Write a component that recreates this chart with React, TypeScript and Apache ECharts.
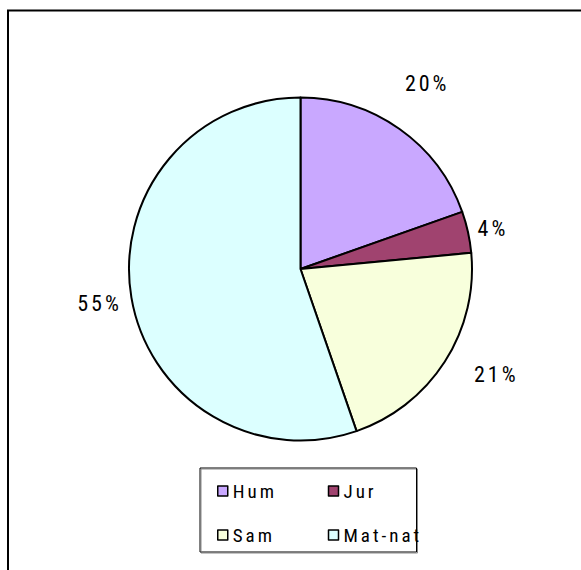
import React, { useEffect, useRef } from "react";
import * as echarts from "echarts";

const categories = ["Hum", "Jur", "Sam", "Mat-nat"];
const values = [19.6, 3.9, 21.2, 55.3];
const colors = ["#C9A8FF", "#A0436F", "#F8FFDC", "#DCFFFF"];
// per-slice label offsets (label line lengths, line hidden)
const labelLen = [56, 19, 24, 34];
const labelLen2 = [-32, -14, 4, -29];

const FONT = "Roboto Condensed";

export default function App() {
  const ref = useRef<HTMLDivElement>(null);
  useEffect(() => {
    if (!ref.current) return;
    const chart = echarts.init(ref.current, undefined, { renderer: "svg" });
    chart.setOption({
      animation: false,
      backgroundColor: "#ffffff",
      textStyle: { fontFamily: FONT },
      graphic: [
        {
          type: "rect",
          shape: { x: 8, y: 10.5, width: 700, height: 700 },
          style: { fill: "none", stroke: "#000", lineWidth: 2 },
          silent: true,
        },
      ],
      legend: {
        data: categories,
        left: 200,
        top: 468,
        width: 230,
        orient: "horizontal",
        icon: "rect",
        itemWidth: 10,
        itemHeight: 10,
        itemGap: 22,
        padding: [12, 0, 6, 17],
        borderColor: "#000",
        borderWidth: 1,
        shadowColor: "#888",
        shadowOffsetX: 1,
        shadowOffsetY: 1,
        shadowBlur: 0,
        itemStyle: { borderColor: "#000", borderWidth: 1.5 },
        textStyle: {
          color: "#000",
          fontFamily: FONT,
          fontSize: 19,
          lineHeight: 22,
          width: 73,
        },
      },
      series: [
        {
          type: "pie",
          center: [300.5, 269],
          radius: 171.5,
          startAngle: 90,
          clockwise: true,
          avoidLabelOverlap: false,
          itemStyle: { borderColor: "#000", borderWidth: 2 },
          emphasis: { disabled: true },
          label: {
            show: true,
            position: "outside",
            color: "#000",
            fontFamily: FONT,
            fontSize: 22,
            formatter: (p: any) => `${Math.round(p.percent)}%`,
          },
          labelLine: { show: false },
          data: categories.map((name, i) => ({
            name,
            value: values[i],
            itemStyle: { color: colors[i] },
            labelLine: { show: false, length: labelLen[i], length2: labelLen2[i] },
          })),
        },
      ],
    });
    return () => chart.dispose();
  }, []);
  return (
    <div
      ref={ref}
      style={{ position: "absolute", left: 0, top: 0, width: 581, height: 570, letterSpacing: "3px" }}
    />
  );
}
